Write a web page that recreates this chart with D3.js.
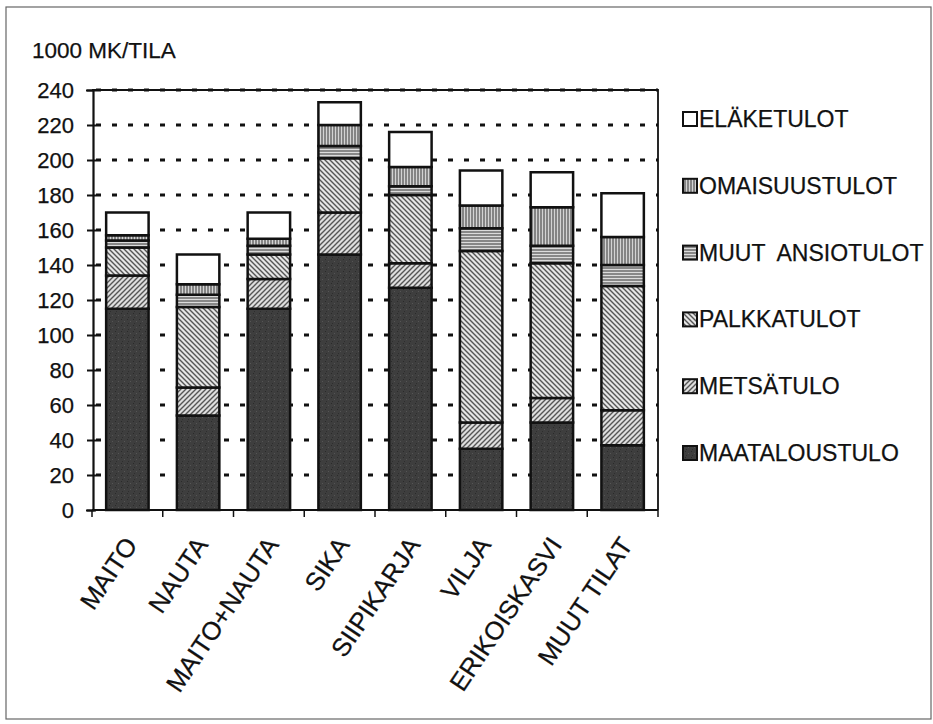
<!DOCTYPE html>
<html><head><meta charset="utf-8">
<script src="https://cdn.jsdelivr.net/npm/d3@7"></script>
<style>html,body{margin:0;padding:0;background:#fff}svg{display:block}text{font-family:"Liberation Sans",Arial,sans-serif;fill:#111;white-space:pre;stroke:#111;stroke-width:0.25px}</style>
</head><body><svg id="c" width="933" height="724"></svg>
<script>
const categories = ["MAITO","NAUTA","MAITO+NAUTA","SIKA","SIIPIKARJA","VILJA","ERIKOISKASVI","MUUT TILAT"];
const seriesNames = ["MAATALOUSTULO","METSÄTULO","PALKKATULOT","MUUT  ANSIOTULOT","OMAISUUSTULOT","ELÄKETULOT"];
const maataloustulo = [115, 54, 115, 146, 127, 35, 50, 37];
const metsatulo      = [19, 16, 17, 24, 14, 15, 14, 20];
const palkkatulot    = [16, 46, 14, 31, 39, 98, 77, 71];
const muutAnsiotulot = [4, 7, 5, 7, 5, 13, 10, 12];
const omaisuustulot  = [3, 6, 4, 12, 11, 13, 22, 16];
const elaketulot     = [13, 17, 15, 13, 20, 20, 20, 25];
const yTicks = [0,20,40,60,80,100,120,140,160,180,200,220,240];
const yTitle = "1000 MK/TILA";

const seriesValues = [maataloustulo, metsatulo, palkkatulot, muutAnsiotulot, omaisuustulot, elaketulot];
const keys = ["s0","s1","s2","s3","s4","s5"];
const rows = categories.map((c,i)=>{const r={cat:c}; keys.forEach((k,j)=>r[k]=seriesValues[j][i]); return r;});

const svg = d3.select("#c");
const defs = svg.append("defs");
function pat(id, size, bg, draw){
  const p = defs.append("pattern").attr("id",id).attr("patternUnits","userSpaceOnUse").attr("width",size).attr("height",size);
  p.append("rect").attr("width",size).attr("height",size).attr("fill",bg);
  draw(p);
}
pat("p0", 6, "#3e3e3e", p=>{
  p.append("rect").attr("x",1).attr("y",1).attr("width",1).attr("height",1).attr("fill","#2a2a2a");
  p.append("rect").attr("x",4).attr("y",3).attr("width",1).attr("height",1).attr("fill","#555");
  p.append("rect").attr("x",2).attr("y",5).attr("width",1).attr("height",1).attr("fill","#2e2e2e");
});
pat("p1", 5, "#dedede", p=>{
  p.append("path").attr("d","M-1,6 L6,-1 M-2,2 L2,-2 M3,7 L7,3").attr("stroke","#555").attr("stroke-width",1.4);
});
pat("p2", 5, "#e6e6e6", p=>{
  p.append("path").attr("d","M-1,-1 L6,6 M-2,3 L2,7 M3,-2 L7,2").attr("stroke","#555").attr("stroke-width",1.4);
});
pat("p3", 3, "#dcdcdc", p=>{
  p.append("path").attr("d","M0,1 L3,1").attr("stroke","#505050").attr("stroke-width",1.2);
});
pat("p4", 3, "#d4d4d4", p=>{
  p.append("path").attr("d","M1,0 L1,3").attr("stroke","#505050").attr("stroke-width",1.2);
});
const fills = ["url(#p0)","url(#p1)","url(#p2)","url(#p3)","url(#p4)","#ffffff"];

svg.append("rect").attr("x",6).attr("y",7).attr("width",925).attr("height",712).attr("fill","none").attr("stroke","#666").attr("stroke-width",1.2);

const x = d3.scaleBand().domain(categories).range([92,658]).paddingInner(0.4).paddingOuter(0.2);
const y = d3.scaleLinear().domain([0,240]).range([510,90]);

svg.append("path").attr("d",`M92,${y(240)} L658,${y(240)} L658,${y(0)}`).attr("fill","none").attr("stroke","#111").attr("stroke-width",1.8);
svg.append("g").selectAll("line").data(yTicks.filter(t=>t>0)).join("line")
  .attr("x1",96).attr("x2",658).attr("y1",d=>y(d)).attr("y2",d=>y(d))
  .attr("stroke","#111").attr("stroke-width",3).attr("stroke-dasharray","5,11");

const stack = d3.stack().keys(keys)(rows);
const g = svg.append("g");
stack.forEach((layer,j)=>{
  g.selectAll(null).data(layer).join("rect")
    .attr("x",d=>x(d.data.cat)).attr("width",x.bandwidth())
    .attr("y",d=>y(d[1])).attr("height",d=>y(d[0])-y(d[1]))
    .attr("fill",fills[j]).attr("stroke","#111").attr("stroke-width",2.5);
});

const ya = svg.append("g").attr("transform","translate(93,0)")
  .call(d3.axisLeft(y).tickValues(yTicks).tickSize(7).tickPadding(12).tickFormat(d3.format("d")));
ya.select(".domain").attr("stroke","#111").attr("stroke-width",2.2);
ya.selectAll(".tick line").attr("stroke","#111").attr("stroke-width",2).attr("x2",-6).attr("x1",3);
ya.selectAll(".tick text").attr("font-size",22).attr("fill","#111").attr("font-family","Liberation Sans, Arial, sans-serif").attr("dy","0.36em");

const xa = svg.append("g").attr("transform",`translate(0,${y(0)})`)
  .call(d3.axisBottom(x).tickSize(0).tickFormat(""));
xa.select(".domain").attr("stroke","#111").attr("stroke-width",2.2).attr("d","M92,0H658");
const step = (658-92)/categories.length;
xa.selectAll(".btick").data(d3.range(categories.length+1)).join("line")
  .attr("x1",i=>92+i*step).attr("x2",i=>92+i*step).attr("y1",0).attr("y2",7)
  .attr("stroke","#111").attr("stroke-width",1.5);
xa.selectAll(".xl").data(categories).join("text")
  .attr("transform",d=>`translate(${x(d)+x.bandwidth()/2+11},${35}) rotate(-56)`)
  .attr("text-anchor","end").attr("font-size",25.5).attr("fill","#111").text(d=>d);

svg.append("text").attr("x",32).attr("y",58).attr("font-size",22.5).text(yTitle);

const legOrder = [5,4,3,2,1,0];
const lg = svg.append("g");
legOrder.forEach((j,i)=>{
  const cy = 119 + i*66.8;
  lg.append("rect").attr("x",683).attr("y",cy-7).attr("width",14).attr("height",14)
    .attr("fill",fills[j]).attr("stroke","#111").attr("stroke-width",2);
  lg.append("text").attr("x",699).attr("y",cy+8).attr("font-size",23).text(seriesNames[j]);
});
</script></body></html>
